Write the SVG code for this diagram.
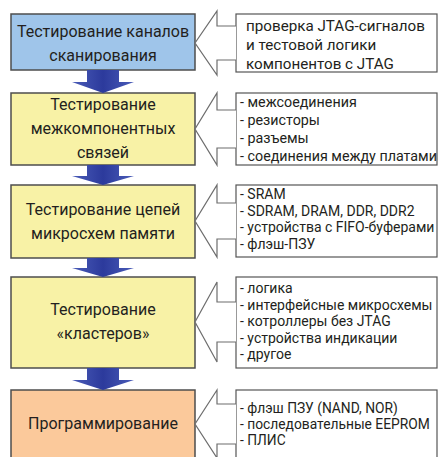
<svg xmlns="http://www.w3.org/2000/svg" width="441" height="457" viewBox="0 0 441 457">
<defs>
<linearGradient id="blueArrow" x1="0" y1="0" x2="1" y2="0">
<stop offset="0" stop-color="#4a5cb8"/>
<stop offset="0.5" stop-color="#2c3a9c"/>
<stop offset="1" stop-color="#4a5cb8"/>
</linearGradient>
<style>
.stage{stroke:#4d4d4d;stroke-width:1.5}
.blue{fill:#9fc5ea}
.yellow{fill:#f8f2a6}
.orange{fill:#fbc99b}
.info{fill:#ffffff;stroke:#555555;stroke-width:1.2}
.lt{font-family:Roboto,"Open Sans",sans-serif;font-size:16px;fill:#231f20;text-anchor:middle}
.rt{font-family:Roboto,"Open Sans",sans-serif;font-size:14.3px;fill:#231f20}
.big{font-size:15.2px}
.sm{font-size:14px}
.xs{font-size:13.8px}
.hollow{fill:#ffffff;stroke:#6d6d6d;stroke-width:1.2;stroke-linejoin:miter}
.down{fill:url(#blueArrow)}
</style>
</defs>
<rect width="441" height="457" fill="#ffffff"/>

<g id="stage1">
<rect class="stage blue" x="11" y="14" width="184" height="56"/>
<text class="lt" x="103" y="37">Тестирование каналов</text>
<text class="lt" x="103" y="61">сканирования</text>
</g>
<g id="stage2">
<rect class="stage yellow" x="11" y="93" width="184" height="72"/>
<text class="lt" x="103" y="110">Тестирование</text>
<text class="lt" x="103" y="134">межкомпонентных</text>
<text class="lt" x="103" y="158">связей</text>
</g>
<g id="stage3">
<rect class="stage yellow" x="11" y="185" width="184" height="73"/>
<text class="lt" x="103" y="215">Тестирование цепей</text>
<text class="lt" x="103" y="239">микросхем памяти</text>
</g>
<g id="stage4">
<rect class="stage yellow" x="11" y="277" width="184" height="91"/>
<text class="lt" x="103" y="315">Тестирование</text>
<text class="lt" x="103" y="339">«кластеров»</text>
</g>
<g id="stage5">
<rect class="stage orange" x="11" y="390" width="184" height="80"/>
<text class="lt" x="103" y="429">Программирование</text>
</g>

<g id="info1">
<rect class="info" x="236" y="14" width="201" height="58"/>
<text class="rt big" x="246" y="31">проверка JTAG-сигналов</text>
<text class="rt big" x="246" y="50">и тестовой логики</text>
<text class="rt big" x="246" y="69">компонентов с JTAG</text>
</g>
<g id="info2">
<rect class="info" x="236" y="93" width="201" height="72"/>
<text class="rt" x="240" y="107">- межсоединения</text>
<text class="rt" x="240" y="125">- резисторы</text>
<text class="rt" x="240" y="143">- разъемы</text>
<text class="rt" x="240" y="161">- соединения между платами</text>
</g>
<g id="info3">
<rect class="info" x="236" y="185" width="201" height="72"/>
<text class="rt sm" x="240" y="199">- SRAM</text>
<text class="rt sm" x="240" y="215.5">- SDRAM, DRAM, DDR, DDR2</text>
<text class="rt sm" x="240" y="232">- устройства с FIFO-буферами</text>
<text class="rt sm" x="240" y="248.5">- флэш-ПЗУ</text>
</g>
<g id="info4">
<rect class="info" x="236" y="277" width="201" height="91"/>
<text class="rt sm" x="240" y="293">- логика</text>
<text class="rt sm" x="240" y="309.5">- интерфейсные микросхемы</text>
<text class="rt sm" x="240" y="326">- котроллеры без JTAG</text>
<text class="rt sm" x="240" y="342.5">- устройства индикации</text>
<text class="rt sm" x="240" y="359">- другое</text>
</g>
<g id="info5">
<rect class="info" x="236" y="390" width="201" height="80"/>
<text class="rt xs" x="240" y="413">- флэш ПЗУ (NAND, NOR)</text>
<text class="rt xs" x="240" y="429">- последовательные EEPROM</text>
<text class="rt xs" x="240" y="445">- ПЛИС</text>
</g>

<g id="connectors">
<path class="down" d="M87,70 H119 V82 H134 L103,93 L72,82 H87 Z"/>
<path class="down" d="M87,165 H119 V176 H134 L103,185 L72,176 H87 Z"/>
<path class="down" d="M87,258 H119 V268 H134 L103,277 L72,268 H87 Z"/>
<path class="down" d="M87,368 H119 V380 H134 L103,390 L72,380 H87 Z"/>
<path class="hollow" d="M236,26 H217 V11 L195,43 L217,75 V60 H236"/>
<path class="hollow" d="M236,110 H217 V93 L195,129 L217,165 V148 H236"/>
<path class="hollow" d="M236,203 H217 V185 L195,221 L217,257 V239 H236"/>
<path class="hollow" d="M236,302 H217 V282 L195,322 L217,362 V342 H236"/>
<path class="hollow" d="M236,404 H217 V390 L195,424 L217,458 V444 H236"/>
</g>
</svg>
